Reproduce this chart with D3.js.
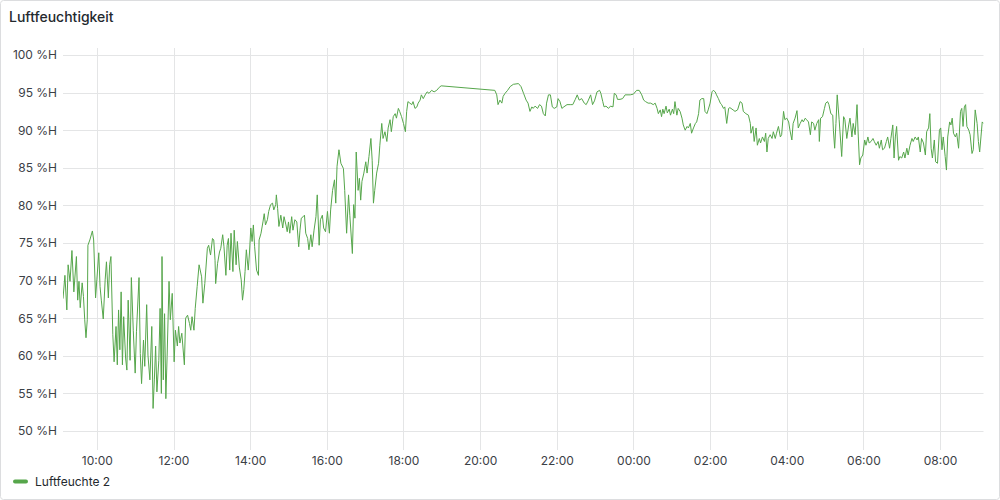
<!DOCTYPE html>
<html><head><meta charset="utf-8">
<script src="https://cdn.jsdelivr.net/npm/d3@7"></script>
<style>html,body{margin:0;padding:0;background:#fff;}svg{display:block;font-family:Inter,"Noto Sans",sans-serif;}</style>
</head><body><svg id="chart" width="1000" height="500"></svg>
<script>
// ---------- data ----------
const panelTitle = "Luftfeuchtigkeit";
const seriesName = "Luftfeuchte 2";
const yTickValues = [50, 55, 60, 65, 70, 75, 80, 85, 90, 95, 100];
const yUnit = " %H";
const xTickFormat = "%H:%M";
// time = minutes after 09:00 of day 1, value = relative humidity (%H)
const morning = [[7,67.6],[10,70.7],[13,66.1],[15,72.1],[18,69.9],[21,74.0],[24,68.5],[28,73.2],[30,67.4],[32,69.9],[34,66.4],[37,69.7],[39,67.9],[41,64.8],[43,62.4],[45,64.8],[46,74.7],[49,75.4],[53,76.6],[55,75.4],[58,67.7],[60,70.1],[63,73.7],[65,69.2],[67,67.4],[70,64.9],[73,70.1],[75,72.5],[78,67.7],[80,72.1],[82,73.2],[85,62.8],[87,59.2],[90,63.9],[92,58.8],[94,66.1],[96,60.8],[98,68.5],[100,58.8],[102,65.2],[105,59.7],[107,58.1],[109,67.4],[112,59.4],[114,70.4],[117,63.4],[120,57.7],[122,63.2],[126,70.4],[128,60.3],[130,56.3],[133,62.1],[135,58.6],[138,66.8],[140,60.1],[143,56.8],[146,63.9],[148,53.0],[150,56.8],[152,61.3],[154,55.2],[157,59.4],[159,66.3],[161,55.0],[162,73.2],[164,56.8],[166,65.6],[168,54.3],[170,59.9],[173,69.9],[175,64.8],[178,68.3],[181,59.2],[183,63.4],[186,61.3],[188,63.9],[190,61.7],[193,63.0],[197,58.8],[199,65.0],[202,65.4],[205,64.3],[207,63.4],[209,65.2],[212,63.4]];
const afternoon = [[214,66.3],[217,69.2],[220,72.1],[224,70.5],[226,67.0],[229,69.6],[233,74.3],[235,74.7],[238,73.4],[241,75.6],[243,75.4],[245,72.7],[246,69.6],[249,72.3],[252,73.8],[254,74.3],[257,76.1],[259,74.5],[262,70.7],[264,74.7],[266,75.6],[268,71.4],[270,76.3],[273,71.2],[275,76.7],[278,72.1],[280,75.2],[283,71.8],[286,70.1],[288,67.4],[290,68.8],[292,71.2],[294,74.1],[297,71.4],[299,73.8],[301,77.0],[303,75.2],[305,77.4],[307,74.5],[310,71.4],[313,70.7],[314,75.4],[317,76.3],[320,77.8],[322,78.9],[324,77.4],[327,78.1],[329,79.2],[332,80.1],[335,80.3],[337,79.4],[340,80.1],[341,81.4],[343,79.6],[345,77.2],[348,78.7],[351,77.0],[353,78.5],[356,77.4],[358,76.5],[360,77.8],[362,76.3],[365,78.5],[367,76.7],[370,78.1],[373,77.8],[376,74.5],[378,76.7],[380,78.3],[383,78.5],[385,78.7],[387,76.3],[390,75.6],[392,74.1],[395,76.1],[397,74.5],[400,76.7],[403,78.5],[405,81.4],[408,74.7],[410,78.1],[413,78.7],[415,77.0],[418,76.5],[421,79.2],[424,76.3],[426,79.4],[429,82.0],[432,83.4],[434,80.3]];
const evening = [[436,85.2],[439,87.4],[442,85.6],[446,84.9],[448,82.0],[451,76.3],[454,81.4],[456,78.7],[460,73.6],[462,80.1],[464,78.3],[466,87.1],[469,82.0],[471,83.6],[473,80.7],[475,83.2],[478,84.3],[481,85.8],[483,84.3],[486,86.5],[489,88.9],[491,86.0],[493,80.3],[495,82.0],[498,84.3],[501,85.6],[503,88.0],[506,90.9],[508,88.9],[511,89.8],[514,88.5],[516,90.3],[519,91.4],[521,89.8],[524,91.8],[527,92.2],[529,91.6],[532,92.9],[534,92.5],[537,91.8],[540,90.9],[543,89.8],[545,92.5],[547,93.8],[550,93.6],[553,93.4],[555,93.8],[558,92.9],[561,93.1],[563,93.6],[566,94.0],[568,94.7],[571,94.2],[574,94.7],[577,95.1],[580,94.9],[584,95.3],[588,95.1],[592,95.3],[596,95.7],[599,95.9],[683,95.3],[686,94.7],[688,93.4]];
const night = [[691,94.0],[694,93.6],[696,94.5],[699,94.9],[703,95.3],[707,95.8],[712,96.1],[720,96.2],[724,95.8],[728,94.9],[732,94.0],[735,93.6],[738,92.5],[741,93.1],[743,92.9],[746,93.2],[750,92.9],[753,93.4],[756,93.2],[759,92.2],[762,91.9],[764,93.6],[767,94.7],[770,94.7],[773,93.1],[776,92.9],[780,93.1],[782,94.2],[785,93.8],[788,92.9],[791,93.1],[796,93.4],[801,93.4],[805,93.4],[809,94.1],[812,94.7],[815,94.0],[819,94.2],[823,93.6],[826,93.4],[829,93.9],[833,94.7],[836,93.4],[839,93.9],[843,95.1],[847,95.3],[849,94.9],[852,93.8],[854,93.1],[857,93.2],[861,92.9],[864,93.2],[868,93.1],[870,94.9],[873,94.7],[875,94.1],[879,94.1],[883,94.2],[887,94.7],[895,94.7],[900,94.8],[905,95.3],[909,95.3],[913,94.7],[916,94.0],[919,93.8],[923,93.6],[927,93.6],[931,93.4],[934,93.6],[937,92.9],[939,92.2],[942,92.7],[944,91.8],[946,92.8],[948,92.2],[951,93.2],[953,92.3],[956,92.8],[958,92.0],[961,92.8],[963,92.2],[965,93.8],[968,92.0],[970,92.9],[973,92.5],[976,91.6],[978,90.7],[981,90.0],[984,90.5],[986,90.3],[989,90.9],[991,89.6],[994,90.3],[997,90.9],[999,91.1],[1002,92.2],[1004,94.0],[1007,94.2],[1010,94.2],[1012,92.5],[1015,92.2],[1017,92.7],[1020,93.6],[1023,95.1],[1025,95.3],[1028,95.1],[1030,94.7],[1033,94.2],[1036,93.6],[1038,93.4],[1041,92.9],[1043,93.1],[1046,90.9],[1049,92.9]];
const earlyMorning = [[1051,93.0],[1056,92.7],[1059,92.5],[1063,92.7],[1067,93.8],[1070,93.6],[1072,92.5],[1076,92.2],[1080,92.0],[1083,90.9],[1084,89.6],[1087,90.5],[1089,88.5],[1092,90.3],[1094,88.0],[1097,88.9],[1099,88.3],[1102,89.1],[1105,88.5],[1107,89.6],[1109,87.1],[1111,88.9],[1114,89.4],[1117,88.9],[1119,89.8],[1122,88.9],[1124,89.6],[1127,90.5],[1130,89.1],[1132,89.4],[1135,92.5],[1137,91.4],[1140,91.6],[1143,91.1],[1145,90.0],[1148,88.7],[1150,90.9],[1153,91.6],[1156,92.6],[1158,90.3],[1161,90.9],[1164,91.4],[1166,91.1],[1169,91.6],[1171,91.4],[1174,91.1],[1177,89.4],[1179,91.1],[1182,90.9],[1184,90.0],[1187,90.9],[1190,91.4],[1191,88.5],[1193,91.6],[1196,91.8],[1199,92.9],[1201,93.6],[1204,93.8],[1206,93.4],[1209,92.2],[1212,92.0],[1213,90.0],[1215,87.6],[1217,90.9],[1219,94.7],[1222,91.4]];
const dawn = [[1226,86.5],[1229,91.8],[1231,91.4],[1234,88.9],[1237,90.7],[1239,91.6],[1242,89.1],[1244,90.9],[1247,89.4],[1250,93.4],[1252,89.1],[1254,85.4],[1256,86.3],[1259,86.7],[1262,88.7],[1264,88.0],[1267,89.1],[1269,88.3],[1272,88.5],[1275,88.9],[1277,88.5],[1280,88.0],[1283,88.5],[1285,87.6],[1288,88.7],[1290,87.4],[1293,87.6],[1296,88.5],[1298,89.1],[1301,87.6],[1303,88.9],[1306,90.7],[1308,86.3],[1310,89.1],[1312,90.5],[1315,86.0],[1317,86.5],[1320,86.3],[1323,87.1],[1325,86.3],[1328,87.6],[1330,86.7],[1333,88.0],[1336,88.9],[1338,88.5],[1341,89.1],[1344,88.7],[1346,89.1],[1349,87.1],[1351,88.9],[1354,88.3],[1357,86.7],[1359,89.8],[1362,90.3],[1364,92.2],[1366,87.6],[1368,86.3],[1371,88.7],[1373,85.8],[1376,85.6],[1379,90.0],[1381,90.3],[1383,87.4],[1385,89.1],[1388,86.5],[1390,84.7],[1392,89.1],[1395,91.1],[1397,90.7],[1399,91.6],[1401,89.6],[1404,89.1],[1406,89.6],[1409,87.6],[1412,92.5],[1414,92.9],[1416,90.5],[1418,93.1],[1420,93.4],[1422,90.5],[1425,90.0],[1427,89.4],[1430,86.9],[1432,87.4],[1435,92.7],[1438,90.9],[1440,88.5],[1442,87.1],[1444,89.1],[1446,91.1],[1448,90.9]];
const timeRangeMinutes = [7, 1448];

// ---------- chart ----------
const base = new Date(2024, 0, 1, 9, 0, 0);
const toDate = m => new Date(base.getTime() + m * 60000);
const data = [].concat(morning, afternoon, evening, night, earlyMorning, dawn)
  .map(([m, v]) => ({t: toDate(m), v}));

const W = 1000, H = 500;
const plot = {left: 63, right: 983.5, top: 48, bottom: 450};
const svg = d3.select("#chart");
const textColor = "#24292e";
const axisColor = "#3b4046";
const gridColor = "#e4e5e6";
const lineColor = "#56a64b";

svg.append("rect").attr("x", 0.5).attr("y", 0.5).attr("width", W - 1).attr("height", H - 1)
  .attr("rx", 3).attr("fill", "#fff").attr("stroke", "#dcdddf");

svg.append("text").attr("x", 9).attr("y", 22).attr("font-size", 14).attr("font-weight", 500)
  .attr("fill", textColor).text(panelTitle);

const x = d3.scaleTime().domain(timeRangeMinutes.map(toDate)).range([plot.left, plot.right]);
const y = d3.scaleLinear().domain([50, 100]).range([431, 55]);

// grid
const xTicks = x.ticks(d3.timeHour.every(2));
svg.append("g").selectAll("line").data(xTicks).join("line")
  .attr("x1", d => Math.round(x(d)) + 0.5).attr("x2", d => Math.round(x(d)) + 0.5)
  .attr("y1", plot.top).attr("y2", plot.bottom)
  .attr("stroke", gridColor).attr("stroke-width", 1);
svg.append("g").selectAll("line").data(yTickValues).join("line")
  .attr("x1", plot.left).attr("x2", plot.right)
  .attr("y1", d => Math.round(y(d)) + 0.5).attr("y2", d => Math.round(y(d)) + 0.5)
  .attr("stroke", gridColor).attr("stroke-width", 1);

// axes (labels only, like Grafana)
const yAxis = d3.axisLeft(y).tickValues(yTickValues).tickSize(0).tickPadding(6)
  .tickFormat(d => d + yUnit);
const gy = svg.append("g").attr("transform", `translate(${plot.left},0)`).call(yAxis);
gy.select(".domain").remove();
gy.selectAll("text").attr("font-size", 12).attr("fill", axisColor)
  .attr("font-family", "Inter, 'Noto Sans', sans-serif");

const xAxis = d3.axisBottom(x).ticks(d3.timeHour.every(2)).tickSize(0).tickPadding(0)
  .tickFormat(d3.timeFormat(xTickFormat));
const gx = svg.append("g").attr("transform", `translate(0,${plot.bottom + 6})`).call(xAxis);
gx.select(".domain").remove();
gx.selectAll("text").attr("font-size", 12).attr("fill", axisColor)
  .attr("font-family", "Inter, 'Noto Sans', sans-serif");

// line
svg.append("clipPath").attr("id", "clip").append("rect")
  .attr("x", plot.left).attr("y", plot.top).attr("width", plot.right - plot.left).attr("height", plot.bottom - plot.top);
const line = d3.line().x(d => x(d.t)).y(d => y(d.v));
svg.append("path").datum(data).attr("clip-path", "url(#clip)")
  .attr("d", line).attr("fill", "none").attr("stroke", lineColor)
  .attr("stroke-width", 1).attr("stroke-linejoin", "round");

// legend
const lg = svg.append("g").attr("transform", "translate(14,481)");
lg.append("line").attr("x1", 1).attr("x2", 12).attr("y1", 0.5).attr("y2", 0.5)
  .attr("stroke", lineColor).attr("stroke-width", 4).attr("stroke-linecap", "round");
lg.append("text").attr("x", 21).attr("y", 0.5).attr("dy", "0.35em").attr("font-size", 12)
  .attr("fill", textColor).text(seriesName);
</script></body></html>
